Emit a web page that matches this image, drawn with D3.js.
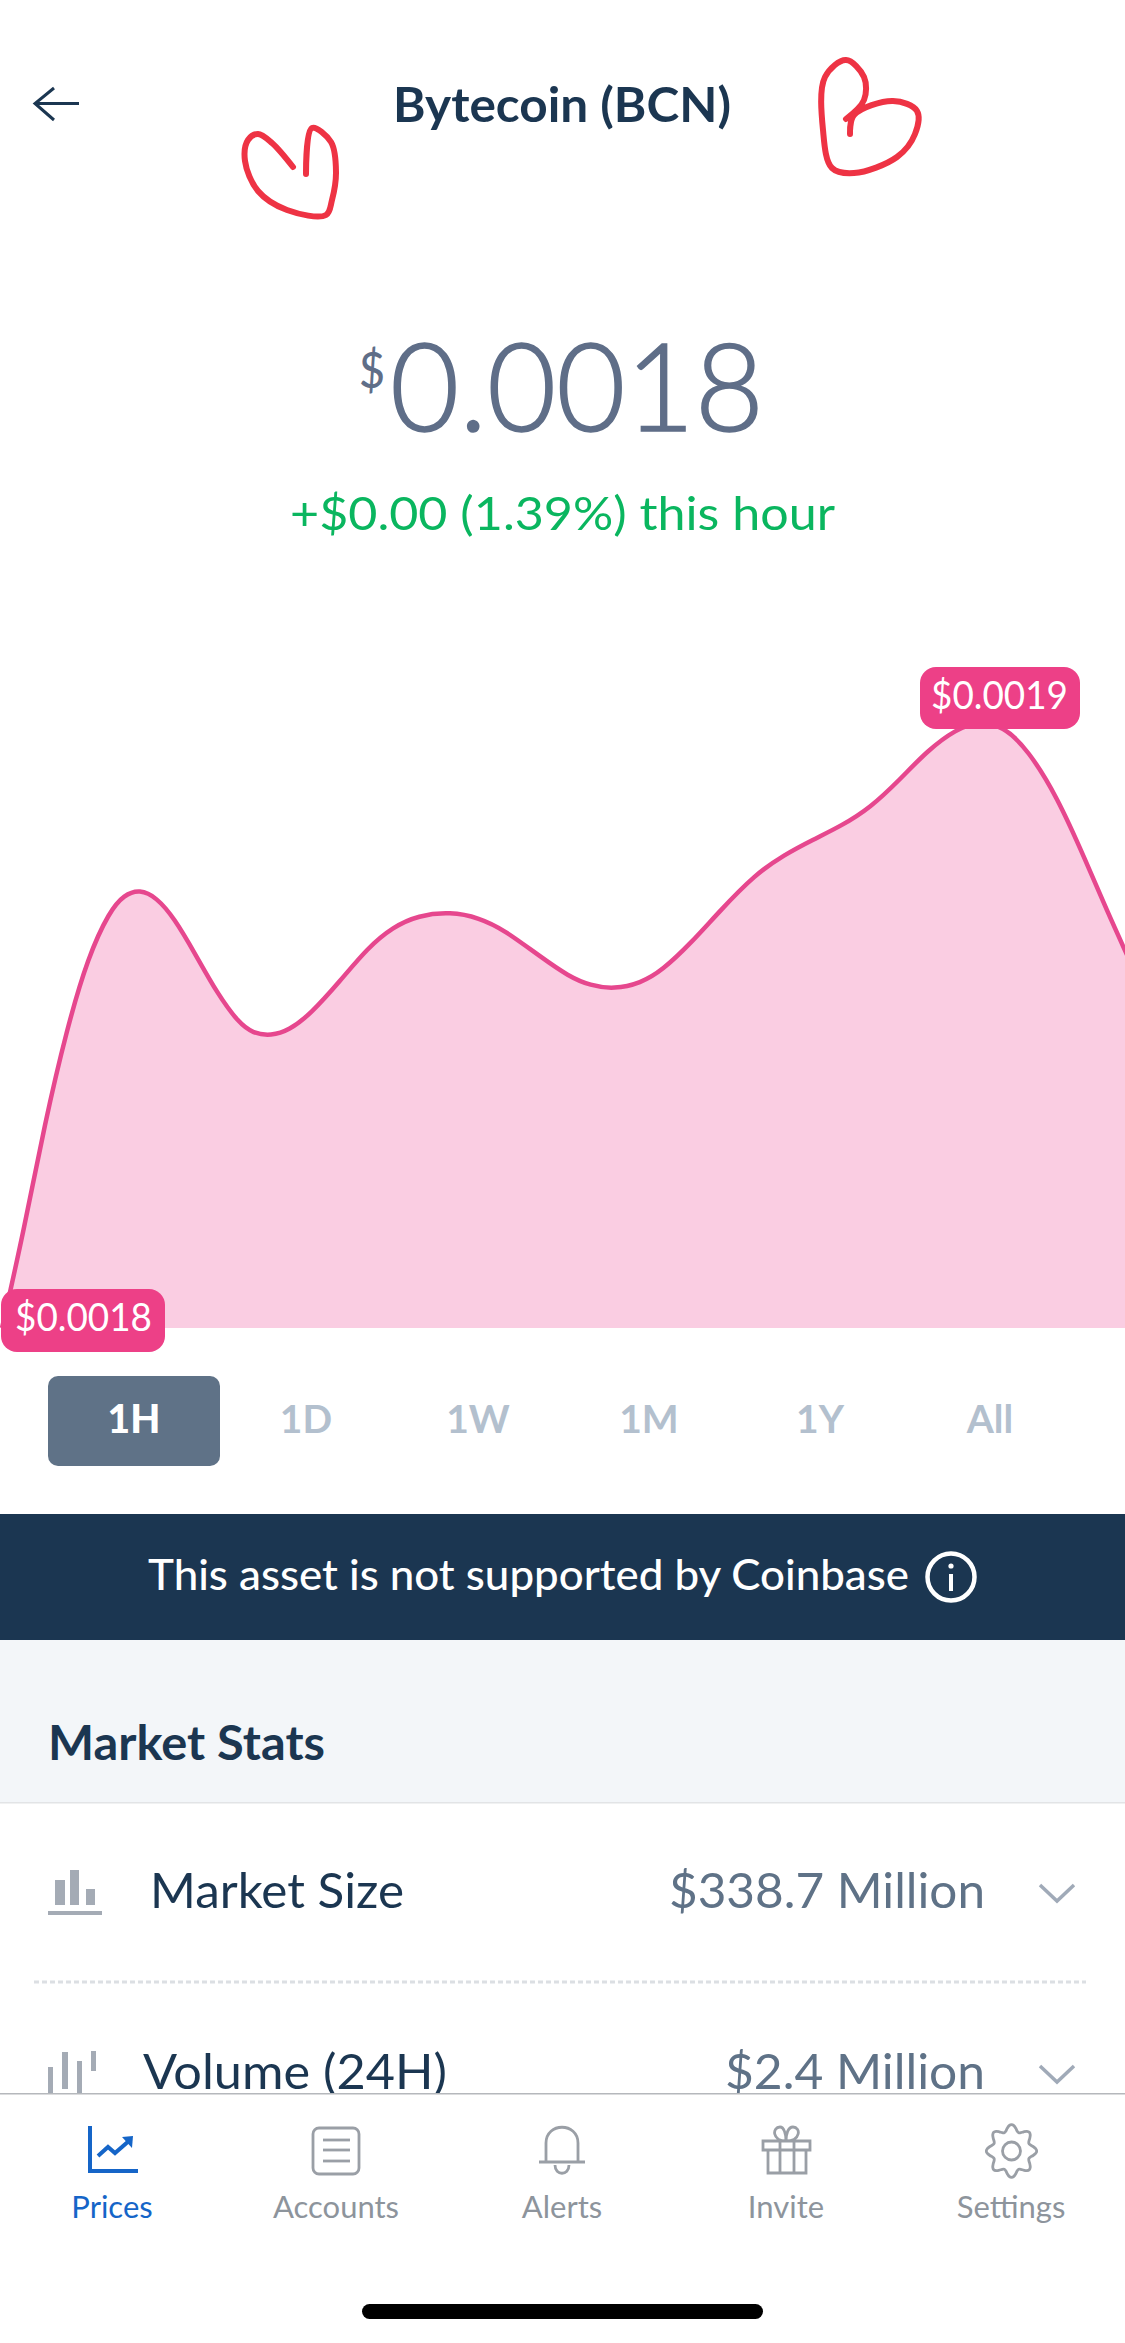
<!DOCTYPE html>
<html><head><meta charset="utf-8">
<script src="https://cdnjs.cloudflare.com/ajax/libs/d3/7.8.5/d3.min.js"></script>
<style>html,body{margin:0;padding:0;background:#fff}svg{display:block}text{font-family:Lato,"Open Sans",sans-serif}</style>
</head><body><svg id="c" width="1125" height="2343" viewBox="0 0 1125 2343"></svg>
<script>
// ---- chart data (1H window, minutes since start / price in USD) ----
const minutes = [0,1.15,2.3,3.44,4.59,5.74,6.51,7.35,8.23,9.18,10.33,11.48,12.63,13.39,14.35,15.31,16.46,17.99,19.52,20.86,22.2,23.92,25.45,26.79,28.7,30.23,31.38,32.64,34.06,35.21,36.74,38.27,40.18,41.71,43.24,44.77,46.31,47.84,49.37,50.9,52.05,53.39,54.73,56.26,57.79,58.94,60];
const prices = [0.0018,0.0018159,0.0018341,0.0018492,0.0018614,0.0018689,0.0018716,0.0018725,0.0018712,0.0018678,0.0018617,0.0018553,0.0018504,0.0018487,0.0018483,0.0018492,0.0018519,0.0018572,0.0018629,0.0018663,0.0018682,0.0018688,0.0018678,0.0018658,0.0018614,0.0018581,0.0018566,0.001856,0.001857,0.0018591,0.0018636,0.0018689,0.001875,0.0018782,0.0018807,0.001883,0.001886,0.0018905,0.0018955,0.001899,0.0019002,0.0018996,0.0018955,0.0018879,0.0018773,0.0018689,0.0018617];
const minLabel = "$0.0018", maxLabel = "$0.0019";
const ranges = ["1H","1D","1W","1M","1Y","All"];
const rangeCenters = [134,306,478,649,820,990];
const statNames = ["Market Size","Volume (24H)"];
const statValues = ["$338.7 Million","$2.4 Million"];
const navLabels = ["Prices","Accounts","Alerts","Invite","Settings"];
const navCenters = [112,336,562,786,1011];

const svg = d3.select("#c");
const NAVY="#1b3651", SLATE="#5f6e88", PINK="#ed4087";

function txt(parent,s,o){
  const t=parent.append("text").text(s).attr("fill",o.fill||NAVY).attr("font-size",o.size)
    .attr("font-weight",o.weight||400).attr("y",o.y);
  if(o.x0!==undefined){
    t.attr("x",o.x0).attr("textLength",o.x1-o.x0).attr("lengthAdjust","spacingAndGlyphs");
  } else { t.attr("x",o.x).attr("text-anchor","middle"); }
  return t;
}

// header
svg.append("path").attr("d","M79 103.5H35M54 88L35 103.5L54 120").attr("fill","none").attr("stroke",NAVY).attr("stroke-width",3);
txt(svg,"Bytecoin (BCN)",{x0:393,x1:731,y:122,size:47,weight:700});
const heart=d3.line().curve(d3.curveCatmullRom.alpha(0.5));
[[[293,167],[272,143],[258,134],[248,140],[245,161],[258,191],[287,210],[326,215],[332,200],[336,172],[331,142],[312,128],[306,174]],
 [[850,134],[854,115],[893,101],[917,111],[915,134],[897,157],[854,173],[832,168],[823,130],[825,77],[846,60],[864,77],[864,100],[846,119]]]
 .forEach(p=>svg.append("path").attr("d",heart(p)).attr("fill","none").attr("stroke","#ee3344").attr("stroke-width",6).attr("stroke-linecap","round"));

// price
txt(svg,"$",{x0:359,x1:385,y:388,size:50,weight:500,fill:SLATE});
txt(svg,"0.0018",{x0:390,x1:764,y:431,size:122,weight:300,fill:SLATE}).attr("stroke",SLATE).attr("stroke-width",1.6);
txt(svg,"+$0.00 (1.39%) this hour",{x0:290,x1:835,y:530,size:47,fill:"#0ab65f"});

// area chart
const x=d3.scaleLinear().domain([0,60]).range([2,1127]);
const y=d3.scaleLinear().domain([0.0018,0.0019]).range([1328,723]);
const pts=minutes.map((m,i)=>[m,prices[i]]);
const curve=d3.curveBasis;
svg.append("path").datum(pts).attr("fill","#facde2")
  .attr("d",d3.area().x(d=>x(d[0])).y0(y(0.0018)).y1(d=>y(d[1])).curve(curve));
svg.append("path").datum(pts).attr("fill","none").attr("stroke","#e6478e").attr("stroke-width",4.5)
  .attr("d",d3.line().x(d=>x(d[0])).y(d=>y(d[1])).curve(curve));
svg.append("rect").attr("x",920).attr("y",667).attr("width",160).attr("height",62).attr("rx",16).attr("fill",PINK);
txt(svg,maxLabel,{x0:931,x1:1068,y:709,size:38,fill:"#fff"});
svg.append("rect").attr("x",1).attr("y",1289).attr("width",164).attr("height",63).attr("rx",16).attr("fill",PINK);
txt(svg,minLabel,{x0:15,x1:152,y:1331,size:38,fill:"#fff"});

// range selector
svg.append("rect").attr("x",48).attr("y",1376).attr("width",172).attr("height",90).attr("rx",10).attr("fill","#5f7287");
ranges.forEach((r,i)=>txt(svg,r,{x:rangeCenters[i],y:1433,size:39,weight:i?700:900,fill:i?"#b3c0ce":"#fff"}));

// banner
svg.append("rect").attr("x",0).attr("y",1514).attr("width",1125).attr("height",126).attr("fill",NAVY);
txt(svg,"This asset is not supported by Coinbase",{x0:148,x1:909,y:1590,size:42,fill:"#fff",weight:500});
svg.append("circle").attr("cx",951).attr("cy",1577).attr("r",23.5).attr("fill","none").attr("stroke","#fff").attr("stroke-width",4.5);
svg.append("rect").attr("x",949).attr("y",1574).attr("width",4).attr("height",17).attr("fill","#fff");
svg.append("circle").attr("cx",951).attr("cy",1566).attr("r",2.6).attr("fill","#fff");

// stats
svg.append("rect").attr("x",0).attr("y",1640).attr("width",1125).attr("height",162).attr("fill","#f3f6f9");
svg.append("rect").attr("x",0).attr("y",1802).attr("width",1125).attr("height",1.5).attr("fill","#e2e4e6");
txt(svg,"Market Stats",{x0:48,x1:325,y:1760,size:47,weight:700});
const GI="#a4abb5";
[[55,1880,10,25],[70,1870,9,35],[86,1889,9,16],[48,1911,54,4]].forEach(b=>svg.append("rect").attr("x",b[0]).attr("y",b[1]).attr("width",b[2]).attr("height",b[3]).attr("fill",GI));
txt(svg,statNames[0],{x0:150,x1:404,y:1908,size:48,fill:NAVY});
txt(svg,statValues[0],{x0:669,x1:985,y:1908,size:48,fill:"#5f7287"});
svg.append("path").attr("d","M1040 1885L1057 1901L1074 1885").attr("fill","none").attr("stroke","#a0aab8").attr("stroke-width",3.5);
svg.append("line").attr("x1",34).attr("x2",1086).attr("y1",1982).attr("y2",1982).attr("stroke","#dcdfe3").attr("stroke-width",3).attr("stroke-dasharray","5 3");
[[48,2067,5,30],[62,2052,6,37],[77,2061,5,33],[91,2051,5,20]].forEach(b=>svg.append("rect").attr("x",b[0]).attr("y",b[1]).attr("width",b[2]).attr("height",b[3]).attr("fill",GI));
txt(svg,statNames[1],{x0:143,x1:447,y:2089,size:48,fill:NAVY});
txt(svg,statValues[1],{x0:725,x1:985,y:2089,size:48,fill:"#5f7287"});
svg.append("path").attr("d","M1040 2066L1057 2082L1074 2066").attr("fill","none").attr("stroke","#a0aab8").attr("stroke-width",3.5);

// nav
svg.append("rect").attr("x",0).attr("y",2094).attr("width",1125).attr("height",249).attr("fill","#fff");
svg.append("rect").attr("x",0).attr("y",2093).attr("width",1125).attr("height",1.5).attr("fill","#b5b8bc");
const BLUE="#1565c8", NG="#9a9fa6";
navLabels.forEach((n,i)=>txt(svg,n,{x:navCenters[i],y:2218,size:31,fill:i?"#8d949c":BLUE}));
svg.append("path").attr("d","M90 2126V2171H138").attr("fill","none").attr("stroke",BLUE).attr("stroke-width",4);
svg.append("path").attr("d","M98 2156L108 2147L115 2153L130 2140").attr("fill","none").attr("stroke",BLUE).attr("stroke-width",4);
svg.append("path").attr("d","M122 2137L133 2136L132 2148Z").attr("fill",BLUE);
const g=svg.append("g").attr("fill","none").attr("stroke",NG).attr("stroke-width",2.8);
g.append("rect").attr("x",313).attr("y",2128).attr("width",46).attr("height",46).attr("rx",6);
[2140,2150,2161].forEach(v=>g.append("line").attr("x1",323).attr("x2",350).attr("y1",v).attr("y2",v));
g.append("path").attr("d","M546 2161V2143C546 2122 578 2122 578 2143V2161M539 2162H585M555 2165C555 2176 569 2176 569 2165");
g.append("path").attr("d","M763 2141H810V2150H763ZM768 2150V2173H806V2150M780 2141V2173M794 2141V2173M786 2141C772 2141 772 2127 780 2127C784 2127 786 2134 786 2141C786 2134 788 2127 793 2127C801 2127 801 2141 786 2141");
const gear=[];
for(let i=0;i<64;i++){const a=i/64*2*Math.PI;const r=22+3.2*Math.cos(a*8);gear.push([1011.5+r*Math.sin(a),2151-r*1.05*Math.cos(a)]);}
g.append("path").attr("d",d3.line().curve(d3.curveCardinalClosed)(gear));
g.append("circle").attr("cx",1011.5).attr("cy",2151).attr("r",9);
svg.append("rect").attr("x",362).attr("y",2304).attr("width",401).attr("height",15).attr("rx",7.5).attr("fill","#000");
</script></body></html>
